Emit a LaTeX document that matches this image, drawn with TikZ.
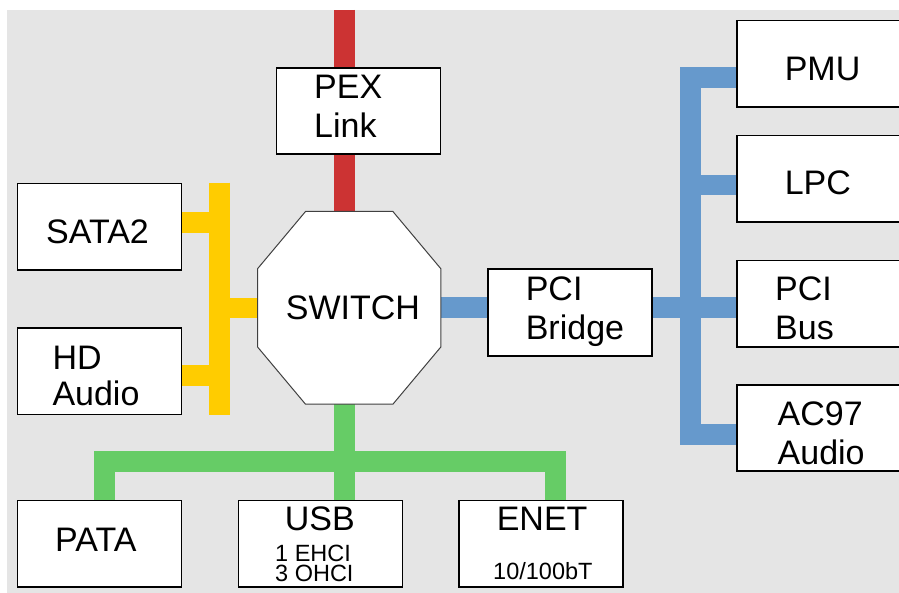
\documentclass[tikz,border=0pt]{standalone}
\usepackage{fontspec}
\setmainfont{Liberation Sans}
\pgfdeclarelayer{back}
\pgfsetlayers{back,main}
\definecolor{panel}{RGB}{229,229,229}
\definecolor{pexred}{RGB}{204,51,51}
\definecolor{sataylw}{RGB}{255,204,0}
\definecolor{pciblue}{RGB}{102,153,204}
\definecolor{usbgreen}{RGB}{102,204,102}
\definecolor{octline}{RGB}{64,64,64}
\begin{document}
\begin{tikzpicture}[x=1pt,y=-1pt,
  unit/.style={draw=black,fill=white,line width=1.8pt,minimum width=164pt,
    minimum height=86.5pt,inner sep=0pt},
  hubframe/.style={rectangle,minimum width=183pt,minimum height=192.3pt,inner sep=0pt},
  octo/.style={draw=octline,fill=white,line width=1pt,line join=miter},
  lbl/.style={anchor=base west,inner sep=0pt,align=left,
    font=\fontsize{34}{38.3}\selectfont},
  sublbl/.style={anchor=base west,inner sep=0pt,align=left,
    font=\fontsize{23.5}{20.7}\selectfont},
  bus/.style={line width=20.5pt,line cap=butt,line join=miter}]

\useasboundingbox (0,0) rectangle (899,593);

% functional blocks
\node[unit] (pex)    at (358.5,111)    {};
\node[unit] (sata)   at (99.45,226.85) {};
\node[unit] (hd)     at (99.45,371.15) {};
\node[unit] (pata)   at (99.5,543.65)  {};
\node[unit] (usb)    at (320.5,543.65) {};
\node[unit] (enet)   at (541.3,543.65) {};
\node[unit] (bridge) at (569.85,312.65){};
\node[unit] (pmu)    at (819.3,63.7)   {};
\node[unit] (lpc)    at (819.3,178.7)  {};
\node[unit] (pcibus) at (819.3,303.85) {};
\node[unit] (ac97)   at (819.3,428)    {};

% the switch: an octagon cut from its frame
\node[hubframe] (sw) at (349.2,307.85) {};
\draw[octo] ([xshift=48pt]sw.north west) -- ([xshift=-48pt]sw.north east)
  -- ([yshift=-57.3pt]sw.north east) -- ([yshift=57.3pt]sw.south east)
  -- ([xshift=-48pt]sw.south east) -- ([xshift=48pt]sw.south west)
  -- ([yshift=57.3pt]sw.south west) -- ([yshift=-57.3pt]sw.north west) -- cycle;

% labels (multi-line labels are placed by their last baseline)
\node[lbl] at (314,137.3)   {PEX\\Link};
\node[lbl] at (46,244)      {SATA2};
\node[lbl,font=\fontsize{34}{35.7}\selectfont] at (52.3,405) {HD\\Audio};
\node[lbl] at (285.7,319.3) {SWITCH};
\node[lbl,font=\fontsize{34}{39}\selectfont] at (525.6,339) {PCI\\Bridge};
\node[lbl] at (784.6,80.7)  {PMU};
\node[lbl] at (784.6,195)   {LPC};
\node[lbl,font=\fontsize{34}{38}\selectfont] at (775,339) {PCI\\Bus};
\node[lbl,font=\fontsize{34}{38.6}\selectfont] at (777.5,464.3) {AC97\\Audio};
\node[lbl] at (55,551.7)    {PATA};
\node[lbl] at (284.6,530.7) {USB};
\node[lbl] at (496.6,530.7) {ENET};
\node[sublbl] at (275,581.7) {1 EHCI\\3 OHCI};
\node[sublbl] at (493,579)  {10/100bT};

% bus routing points
\coordinate (redtop) at (344.5,10);
\coordinate (ytop) at (219.5,182.7);
\coordinate (ybot) at (219.5,415);
\coordinate (ysata) at (0,222.4);
\coordinate (yhd) at (0,375.7);
\coordinate (ymid) at (0,308);
\coordinate (gl) at (104.6,461.7);
\coordinate (gr) at (555.6,461.7);
\coordinate (bpmu) at (690,77.5);
\coordinate (blpc) at (690,185);
\coordinate (bmid) at (690,307.5);
\coordinate (bac) at (690,434);

\begin{pgfonlayer}{back}
  \fill[panel] (7,10) rectangle (899,593);
  % PCI Express uplink
  \draw[bus,pexred,line width=21pt] (redtop) -- (redtop |- pex.north);
  \draw[bus,pexred,line width=21pt] (pex.south -| redtop) -- (sw.north -| redtop);
  % SATA / HD audio branch
  \draw[bus,sataylw,line width=21pt] (ytop) -- (ybot);
  \draw[bus,sataylw] (sata.east |- ysata) -- (ytop |- ysata);
  \draw[bus,sataylw] (hd.east |- yhd) -- (ytop |- yhd);
  \draw[bus,sataylw] (ytop |- ymid) -- (sw.west |- ymid);
  % PATA / USB / Ethernet branch
  \draw[bus,usbgreen] (sw.south -| redtop) -- (usb.north -| redtop);
  \draw[bus,usbgreen] (pata.north -| gl) -- (gl) -- (gr) -- (enet.north -| gr);
  % PCI branch
  \draw[bus,pciblue] (sw.east |- bmid) -- (bridge.west |- bmid);
  \draw[bus,pciblue] (bridge.east |- bmid) -- (pcibus.west |- bmid);
  \draw[bus,pciblue,line width=21pt] (pmu.west |- bpmu) -- (bpmu) -- (bac) -- (ac97.west |- bac);
  \draw[bus,pciblue] (lpc.west |- blpc) -- (blpc);
\end{pgfonlayer}
\end{tikzpicture}
\end{document}
